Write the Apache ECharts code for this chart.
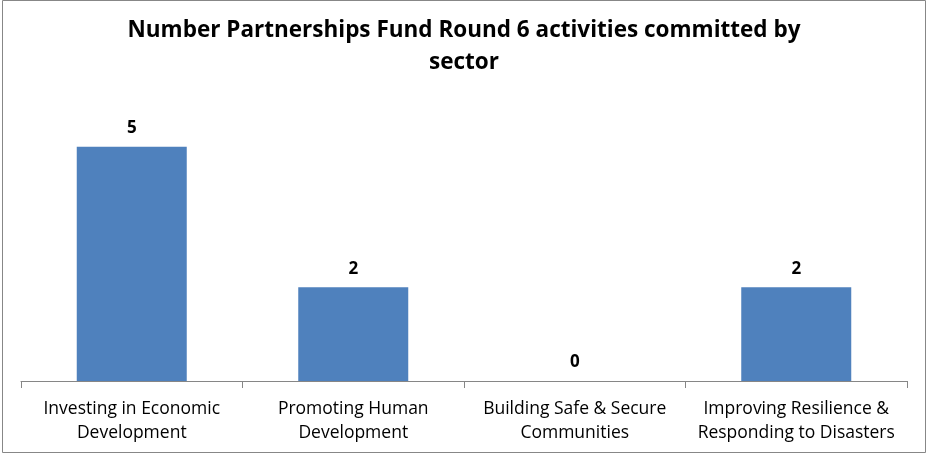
<!DOCTYPE html>
<html>
<head>
<meta charset="utf-8">
<script src="https://cdn.jsdelivr.net/npm/echarts@6/dist/echarts.min.js"></script>
<style>
  html, body { margin: 0; padding: 0; background: #fff; }
  #chart { width: 928px; height: 456px; }
</style>
</head>
<body>
<div id="chart"></div>
<script>
// 各部门的类别和数值
var categories = [
  'Investing in Economic\nDevelopment',
  'Promoting Human\nDevelopment',
  'Building Safe & Secure\nCommunities',
  'Improving Resilience &\nResponding to Disasters'
]
var activities = [5, 2, 0, 2]

var myChart = echarts.init(document.getElementById('chart'))
var option = {
  animation: false,
  title: {
    left: 'center',
    top: 10,
    text: 'Number Partnerships Fund Round 6 activities committed by\nsector',
    textStyle: {
      fontFamily: 'Open Sans',
      fontWeight: 'bold',
      fontSize: 22.5,
      lineHeight: 32,
      color: '#000'
    }
  },
  graphic: [
    {
      type: 'rect',
      shape: { x: 2.5, y: 0.5, width: 923, height: 452 },
      style: { fill: 'none', stroke: '#878787', lineWidth: 1 }
    }
  ],
  grid: {
    left: 21,
    right: 21,
    top: 100,
    bottom: 75
  },
  xAxis: {
    type: 'category',
    data: categories,
    axisLine: { show: true, lineStyle: { color: '#868686' } },
    axisTick: { show: true, length: 7, lineStyle: { color: '#868686' } },
    axisLabel: {
      margin: 16,
      fontFamily: 'Open Sans',
      fontSize: 17.5,
      lineHeight: 24,
      color: '#000',
      interval: 0
    }
  },
  yAxis: {
    type: 'value',
    min: 0,
    max: 6,
    interval: 1,
    show: false
  },
  series: [
    {
      type: 'bar',
      data: activities,
      barWidth: 110,
      itemStyle: { color: '#4F81BD' },
      label: {
        show: true,
        position: 'top',
        distance: 10,
        fontFamily: 'Open Sans',
        fontWeight: 'bold',
        fontSize: 17,
        color: '#000'
      }
    }
  ]
}
myChart.setOption(option, true)
</script>
</body>
</html>
